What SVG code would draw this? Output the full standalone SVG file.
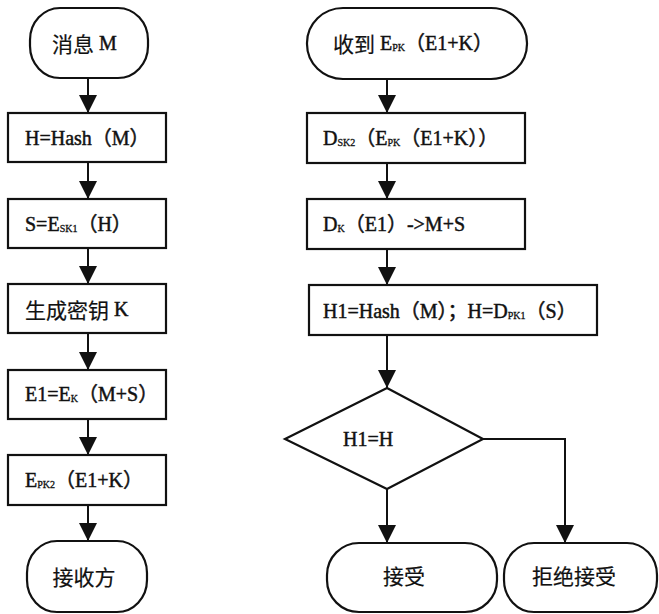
<svg xmlns="http://www.w3.org/2000/svg" width="659" height="614" viewBox="0 0 659 614">
<style>
.shape{fill:#fff;stroke:#111;stroke-width:2.2}
.t{font-family:"Liberation Serif","Noto Sans CJK SC",serif;font-size:20px;fill:#111;stroke:#111;stroke-width:0.45;dominant-baseline:central}
.c{font-family:"Noto Sans CJK SC",sans-serif;font-size:21px;stroke-width:0.2}
.s{font-size:10px;stroke-width:0.3}
.conn{fill:none;stroke:#111;stroke-width:2}
</style>
<defs>
<marker id="ah" markerUnits="userSpaceOnUse" markerWidth="18" markerHeight="18" refX="16" refY="8" orient="auto" viewBox="0 0 16 16">
<path d="M0,0 L16,8 L0,16 z" fill="#111"/>
</marker>
</defs>
<rect width="659" height="614" fill="#fff"/>
<g id="connectors">
<line class="conn" x1="88" y1="78" x2="88" y2="113" marker-end="url(#ah)"/>
<line class="conn" x1="88" y1="162" x2="88" y2="199" marker-end="url(#ah)"/>
<line class="conn" x1="88" y1="248" x2="88" y2="284" marker-end="url(#ah)"/>
<line class="conn" x1="88" y1="333" x2="88" y2="370" marker-end="url(#ah)"/>
<line class="conn" x1="88" y1="419" x2="88" y2="455" marker-end="url(#ah)"/>
<line class="conn" x1="88" y1="505" x2="88" y2="541" marker-end="url(#ah)"/>
<line class="conn" x1="387" y1="79" x2="387" y2="113" marker-end="url(#ah)"/>
<line class="conn" x1="387" y1="163" x2="387" y2="199" marker-end="url(#ah)"/>
<line class="conn" x1="387" y1="249" x2="387" y2="285" marker-end="url(#ah)"/>
<line class="conn" x1="387" y1="335" x2="387" y2="388" marker-end="url(#ah)"/>
<line class="conn" x1="387" y1="489" x2="387" y2="543" marker-end="url(#ah)"/>
<polyline class="conn" points="483,439 565,439 565,543" marker-end="url(#ah)"/>
</g>
<g id="n1"><rect class="shape" x="30" y="8" width="118" height="70" rx="30" ry="32"/><text class="t" x="52" y="43"><tspan class="c">消息</tspan> M</text></g>
<g id="n2"><rect class="shape" x="8" y="113" width="158" height="49"/><text class="t" x="25" y="138">H=Hash（M）</text></g>
<g id="n3"><rect class="shape" x="8" y="199" width="158" height="49"/><text class="t" x="25" y="224">S=E<tspan class="s" dy="4">SK1</tspan><tspan dy="-4">（H）</tspan></text></g>
<g id="n4"><rect class="shape" x="8" y="284" width="158" height="49"/><text class="t" x="25" y="309"><tspan class="c">生成密钥</tspan> K</text></g>
<g id="n5"><rect class="shape" x="8" y="370" width="158" height="49"/><text class="t" x="25" y="394">E1=E<tspan class="s" dy="4">K</tspan><tspan dy="-4">（M+S）</tspan></text></g>
<g id="n6"><rect class="shape" x="8" y="455" width="158" height="50"/><text class="t" x="25" y="480">E<tspan class="s" dy="4">PK2</tspan><tspan dy="-4">（E1+K）</tspan></text></g>
<g id="n7"><rect class="shape" x="27" y="541" width="120" height="71" rx="30" ry="32"/><text class="t c" x="84" y="576" text-anchor="middle">接收方</text></g>
<g id="r1"><rect class="shape" x="307" y="8" width="220" height="71" rx="36" ry="35"/><text class="t" x="333" y="43"><tspan class="c">收到</tspan> E<tspan class="s" dy="4">PK</tspan><tspan dy="-4">（E1+K）</tspan></text></g>
<g id="r2"><rect class="shape" x="307" y="113" width="218" height="50"/><text class="t" x="323" y="138">D<tspan class="s" dy="4">SK2</tspan><tspan dy="-4">（E</tspan><tspan class="s" dy="4">PK</tspan><tspan dy="-4">（E1+K））</tspan></text></g>
<g id="r3"><rect class="shape" x="307" y="199" width="218" height="50"/><text class="t" x="323" y="224">D<tspan class="s" dy="4">K</tspan><tspan dy="-4">（E1）->M+S</tspan></text></g>
<g id="r4"><rect class="shape" x="309" y="285" width="288" height="50"/><text class="t" x="323" y="311">H1=Hash（M）；H=D<tspan class="s" dy="4">PK1</tspan><tspan dy="-4">（S）</tspan></text></g>
<g id="r5"><polygon class="shape" points="387,388 483,439 387,489 285,439"/><text class="t" x="343" y="439">H1=H</text></g>
<g id="r6"><rect class="shape" x="327" y="543" width="170" height="69" rx="32" ry="32"/><text class="t c" x="404" y="575" text-anchor="middle">接受</text></g>
<g id="r7"><rect class="shape" x="504" y="543" width="153" height="69" rx="30" ry="32"/><text class="t c" x="574" y="575" text-anchor="middle">拒绝接受</text></g>
</svg>
